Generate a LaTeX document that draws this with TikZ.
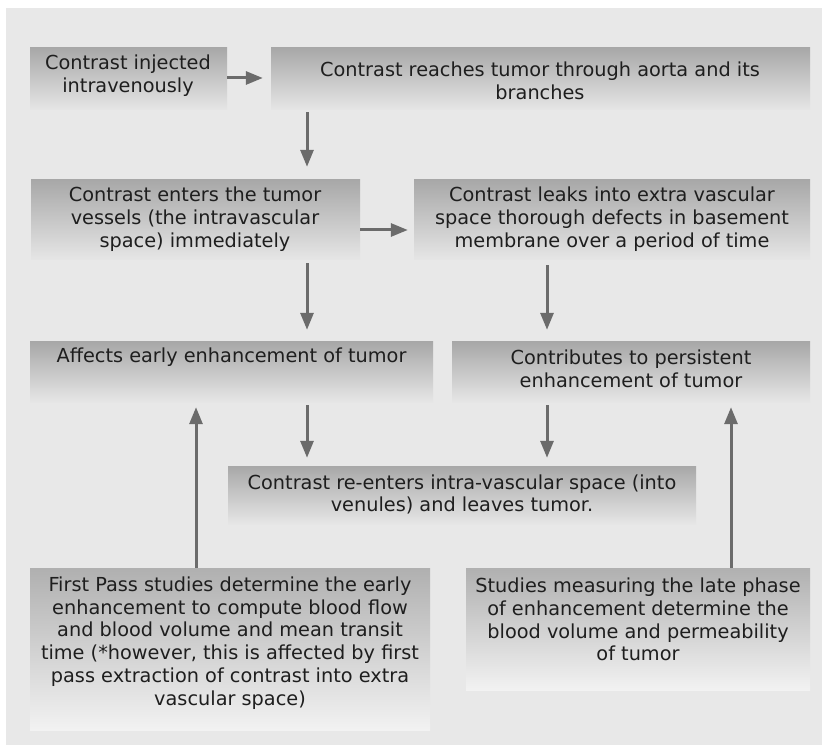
\documentclass[tikz,border=0pt]{standalone}
\usepackage{fontspec}
\setmainfont{DejaVu Sans}
\usetikzlibrary{arrows.meta}
\definecolor{panel}{HTML}{E8E8E8}
\definecolor{boxtop}{HTML}{A8A8A8}
\definecolor{boxbot}{HTML}{E6E6E6}
\definecolor{boxtopb}{HTML}{B0B0B0}
\definecolor{boxbotb}{HTML}{F2F2F2}
\definecolor{arrowc}{HTML}{6B6B6B}
\definecolor{txt}{HTML}{1E1E1E}
\tikzset{
  box/.style={draw=none, inner sep=0pt, shading=axis, top color=boxtop, bottom color=boxbot},
  boxlow/.style={draw=none, inner sep=0pt, shading=axis, top color=boxtopb, bottom color=boxbotb},
  lbl/.style={inner sep=0pt, align=center, text=txt, font=\fontsize{19.3}{22.8}\selectfont},
  arr/.style={draw=arrowc, line width=3pt, -{Triangle[length=17pt,width=13pt]}},
}
\begin{document}
\begin{tikzpicture}[x=1pt,y=-1pt]
\useasboundingbox (0,0) rectangle (825,751);
\fill[white] (0,0) rectangle (825,751);
\fill[panel] (6,8) rectangle (822,745);
% boxes
\node[box, minimum width=197, minimum height=62] (b1) at (128.5,79) {};
\node[box, minimum width=539, minimum height=62] (b2) at (540.5,79) {};
\node[box, minimum width=329, minimum height=80] (b3) at (195.5,220) {};
\node[box, minimum width=396, minimum height=80] (b4) at (612,220) {};
\node[box, minimum width=403, minimum height=60] (b5) at (231.5,372) {};
\node[box, minimum width=358, minimum height=60] (b6) at (631,372) {};
\node[box, minimum width=468, minimum height=58] (b7) at (462,495) {};
\node[boxlow, minimum width=400, minimum height=162] (b8) at (230,649) {};
\node[boxlow, minimum width=344, minimum height=122] (b9) at (638,629) {};
% texts
\node[lbl] (t1) at (128,76) {Contrast injected\\intravenously};
\node[lbl] (t2) at (540,81) {Contrast reaches tumor through aorta and its\\branches};
\node[lbl] (t3) at (195,219) {Contrast enters the tumor\\vessels (the intravascular\\space) immediately};
\node[lbl] (t4) at (612,219) {Contrast leaks into extra vascular\\space thorough defects in basement\\membrane over a period of time};
\node[lbl] (t5) at (231.5,357) {Affects early enhancement of tumor};
\node[lbl] (t6) at (631,369) {Contributes to persistent\\enhancement of tumor};
\node[lbl] (t7) at (462,494.5) {Contrast re-enters intra-vascular space (into\\venules) and leaves tumor.};
\node[lbl] (t8) at (230,643) {First Pass studies determine the early\\enhancement to compute blood flow\\and blood volume and mean transit\\time (*however, this is affected by first\\pass extraction of contrast into extra\\vascular space)};
\node[lbl] (t9) at (638,619.5) {Studies measuring the late phase\\of enhancement determine the\\blood volume and permeability\\of tumor};
% arrow columns
\coordinate (xa) at (307,0);
\coordinate (xb) at (547,0);
\coordinate (xc) at (196,0);
\coordinate (xd) at (731,0);
\coordinate (ya) at (0,78);
\coordinate (yb) at (0,230);
% connectors
\draw[arr, shorten >=8pt] (b1.east |- ya) -- (b2.west |- ya);
\draw[arr, shorten <=2pt, shorten >=13pt] (b2.south -| xa) -- (b3.north -| xa);
\draw[arr, shorten >=6pt] (b3.east |- yb) -- (b4.west |- yb);
\draw[arr, shorten <=3pt, shorten >=12pt] (b3.south -| xa) -- (b5.north -| xa);
\draw[arr, shorten <=5pt, shorten >=12pt] (b4.south -| xb) -- (b6.north -| xb);
\draw[arr, shorten <=3pt, shorten >=8pt] (b5.south -| xa) -- (b7.north -| xa);
\draw[arr, shorten <=3pt, shorten >=8pt] (b6.south -| xb) -- (b7.north -| xb);
\draw[arr, shorten >=5pt] (b8.north -| xc) -- (b5.south -| xc);
\draw[arr, shorten >=5pt] (b9.north -| xd) -- (b6.south -| xd);
\end{tikzpicture}
\end{document}
